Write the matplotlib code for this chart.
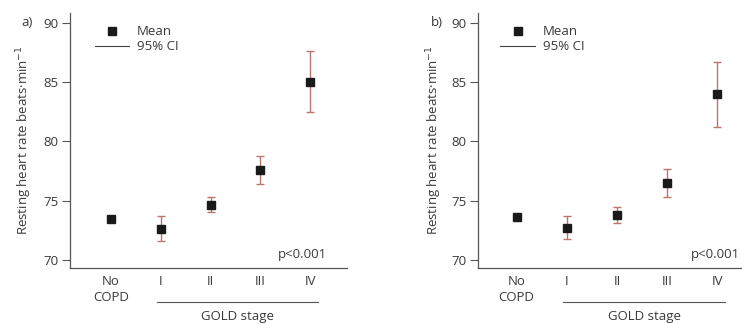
import matplotlib
matplotlib.use("Agg")
import matplotlib.pyplot as plt
from matplotlib.lines import Line2D
import matplotlib.transforms as mtransforms

categories = ["No\nCOPD", "I", "II", "III", "IV"]

mean_a = [73.5, 72.6, 74.65, 77.6, 85.0]
lo_a = [None, 71.6, 74.05, 76.4, 82.45]
hi_a = [None, 73.7, 75.3, 78.8, 87.6]

mean_b = [73.65, 72.7, 73.77, 76.5, 83.95]
lo_b = [None, 71.75, 73.15, 75.3, 81.2]
hi_b = [None, 73.7, 74.45, 77.67, 86.66]

yticks = [70, 75, 80, 85, 90]

plt.rcParams['font.family'] = ['Open Sans', 'DejaVu Sans']
txt = '#3a3a3a'
ci_col = '#b9766c'
fs = 9.5

fig = plt.figure(figsize=(7.42, 3.24), dpi=100)

def panel(rect, xlim, means, lo, hi, letter, p_x):
    ax = fig.add_axes(rect)
    xs = list(range(len(categories)))
    for x, m, l, h in zip(xs, means, lo, hi):
        if l is None:
            continue
        ax.errorbar([x], [m], yerr=[[m - l], [h - m]], fmt='none',
                    ecolor=ci_col, elinewidth=1.0, capsize=2.6, capthick=1.0, zorder=2)
    ax.plot(xs, means, 's', color='#1a1a1a', markersize=5.2, zorder=3)
    ax.set_xlim(*xlim)
    ax.set_ylim(69.33, 90.82)
    ax.set_yticks(yticks)
    ax.set_xticks(xs)
    ax.set_xticklabels(categories, linespacing=1.3)
    ax.tick_params(axis='x', length=0, pad=5, labelsize=fs, colors=txt)
    ax.tick_params(axis='y', length=6, width=0.8, pad=2, labelsize=fs, colors=txt, color='#555555')
    for s in ['top', 'right']:
        ax.spines[s].set_visible(False)
    for s in ['left', 'bottom']:
        ax.spines[s].set_color('#555555')
        ax.spines[s].set_linewidth(0.9)
    ax.set_ylabel('Resting heart rate beats·min$^{-1}$', fontsize=fs, color=txt)
    ax.yaxis.set_label_coords(-0.13, 0.5)
    # legend
    ax.plot([0.03], [89.3], 's', color='#1a1a1a', markersize=5.2, clip_on=False)
    ax.text(0.52, 89.3, 'Mean', fontsize=fs, color=txt, va='center')
    ax.plot([-0.33, 0.37], [88.0, 88.0], color='#444444', lw=0.8)
    ax.text(0.52, 88.0, '95% CI', fontsize=fs, color=txt, va='center')
    ax.text(p_x, 70.5, 'p<0.001', fontsize=fs, color=txt, ha='right', va='center')
    trans = mtransforms.blended_transform_factory(ax.transData, ax.transAxes)
    ax.add_line(Line2D([0.92, 4.16], [-0.133, -0.133], transform=trans,
                       color='#555555', lw=0.8, clip_on=False))
    ax.text(2.54, -0.163, 'GOLD stage', transform=trans, fontsize=fs, color=txt,
            ha='center', va='top')
    ltrans = mtransforms.blended_transform_factory(ax.transAxes, ax.transData)
    ax.text(-0.135, 90, letter, transform=ltrans, fontsize=fs, color=txt,
            ha='right', va='center')
    return ax

ax1 = panel([0.0943, 0.1728, 0.3734, 0.7872], (-0.824, 4.74), mean_a, lo_a, hi_a, 'a)', 4.33)
ax2 = panel([0.644, 0.1728, 0.354, 0.7872], (-0.77, 4.46), mean_b, lo_b, hi_b, 'b)', 4.45)

fig.savefig('out.png', dpi=100)
